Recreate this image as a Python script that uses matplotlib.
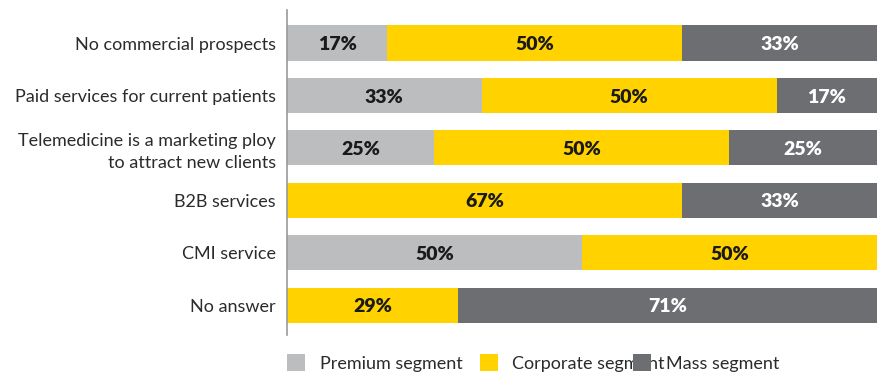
import numpy as np
import matplotlib.pyplot as plt

plt.rcParams['font.family'] = ['Lato', 'DejaVu Sans']

# Survey answers and share of each hospital segment (%)
categories = [
    "No commercial prospects",
    "Paid services for current patients",
    "Telemedicine is a marketing ploy\nto attract new clients",
    "B2B services",
    "CMI service",
    "No answer",
]
premium = [17, 33, 25, 0, 50, 0]
corporate = [50, 50, 50, 67, 50, 29]
mass = [33, 17, 25, 33, 0, 71]

series = [
    ("Premium segment", premium, "#BCBDBF", "#1a1a1a"),
    ("Corporate segment", corporate, "#FFD200", "#1a1a1a"),
    ("Mass segment", mass, "#6D6E71", "white"),
]

fig = plt.figure(figsize=(8.82, 3.72), dpi=100)
ax = fig.add_axes([0.3254, 0.0995, 0.6689, 0.8736])

y = np.arange(len(categories))
left = np.zeros(len(categories))
handles = []
for name, vals, color, txt in series:
    vals = np.array(vals, dtype=float)
    bars = ax.barh(y, vals, left=left, height=0.67, color=color, label=name)
    handles.append(bars)
    for yi, l, v in zip(y, left, vals):
        if v > 0:
            ax.text(l + v / 2, yi + 0.03, f"{int(v)}%", ha="center", va="center",
                    fontsize=14, fontweight="heavy", color=txt)
    left += vals

ax.set_xlim(0, 100)
ax.set_ylim(len(categories) - 0.43, -0.63)
ax.set_yticks(y)
ax.set_yticklabels(categories, fontsize=13, color="#2b2b2b", linespacing=1.45)
ax.tick_params(axis="y", length=0, pad=8)
ax.set_xticks([])
for side in ["top", "right", "bottom"]:
    ax.spines[side].set_visible(False)
ax.spines["left"].set_color("#9a9a9a")
ax.spines["left"].set_linewidth(1.2)

# one legend per entry so each sits at its own x position
legend_x = [287 / 882, 480 / 882, 633 / 882]
for h, x0 in zip(handles, legend_x):
    fig.legend([h], [h.get_label()], loc="center left",
               bbox_to_anchor=(x0, 0.024), frameon=False,
               borderpad=0, borderaxespad=0,
               fontsize=13, handlelength=1.0, handleheight=1.0,
               handletextpad=0.8, labelcolor="#2b2b2b")

plt.savefig("out.png", dpi=100)
plt.close()
